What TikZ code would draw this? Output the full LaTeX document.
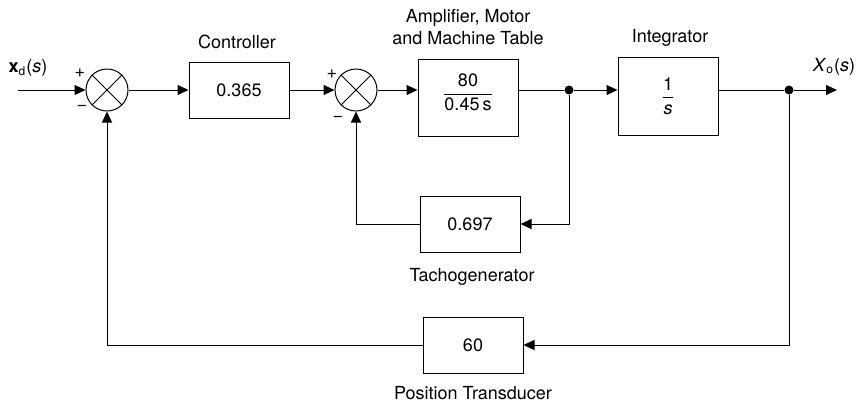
\documentclass[tikz,border=0pt]{standalone}
\usepackage{amsmath}
\usepackage{fontspec}
\setmainfont{TeX Gyre Heros}
\usepackage{tikz}
\usetikzlibrary{arrows.meta,calc}

\begin{document}
\begin{tikzpicture}[
  x=0.5pt,
  y=-0.5pt,
  >={Triangle[length=5.5pt,width=5pt]},
  every node/.style={font=\fontsize{9}{10.8}\selectfont,inner sep=1pt},
  block/.style={draw,rectangle,line width=0.5pt,minimum width=50pt,minimum height=28pt},
  summer/.style={draw,circle,line width=0.5pt,minimum size=21pt,inner sep=0pt},
  dot/.style={circle,fill,inner sep=0pt,minimum size=4.5pt},
  edge/.style={->,line width=0.5pt},
  wire/.style={line width=0.5pt}
]
\useasboundingbox (0,0) rectangle (858,404);

% Forward path
\coordinate (in) at (18,90);
\node[summer] (sum1) at (107,90) {};
\node[block] (ctrl) at (239,90) {0.365};
\node[summer] (sum2) at (356,90) {};
\node[block,minimum height=38.5pt] (amp) at (468,97.5) {};
\node (amp-tf) at ($(amp.center)+(0,-5)$) {$\dfrac{\text{80}}{\text{0.45\,s}}$};
\node[dot] (j1) at (569,90) {};
\node[block,minimum height=39pt] (integ) at (668,96) {};
\node (integ-tf) at (integ.center) {$\dfrac{\text{1}}{\textit{s}}$};
\node[dot] (j2) at (789,90) {};
\coordinate (out) at (837,90);

% Crosses in the summing points
\draw[wire] (sum1.45) -- (sum1.225) (sum1.135) -- (sum1.315);
\draw[wire] (sum2.45) -- (sum2.225) (sum2.135) -- (sum2.315);

\draw[edge] (in) -- (sum1.west);
\draw[edge] (sum1.east) -- (ctrl.west);
\draw[edge] (ctrl.east) -- (sum2.west);
\draw[edge] (sum2.east) -- (sum2.east -| amp.west);
\draw[wire] (amp.east |- j1) -- (j1);
\draw[edge] (j1) -- (j1 -| integ.west);
\draw[wire] (integ.east |- j2) -- (j2);
\draw[edge] (j2) -- (out);

% Feedback blocks
\node[block] (tacho) at (470,224) {0.697};
\node[block] (pos) at (473,345) {60};

\draw[edge] (j1) |- (tacho.east);
\draw[edge] (tacho.west) -| (sum2.south);
\draw[edge] (j2) |- (pos.east);
\draw[edge] (pos.west) -| (sum1.south);

% Signs
\node (p1) at (80,73) {+};
\node (m1) at (82,108) {−};
\node (p2) at (332,74) {+};
\node (m2) at (338,119) {−};

% Signal labels
\node (xd) at (28,68) {\textbf{x}\textsubscript{d}(\textit{s})};
\node (xo) at (834,67) {\textit{X}\textsubscript{o}(\textit{s})};

% Block titles
\node (ctrl-label) at (237,42) {Controller};
\node[align=center] (amp-label) at (468,27) {Amplifier, Motor\\and Machine Table};
\node (integ-label) at (670,38) {Integrator};
\node (tacho-label) at (472,277) {Tachogenerator};
\node (pos-label) at (473,393) {Position Transducer};
\end{tikzpicture}
\end{document}
